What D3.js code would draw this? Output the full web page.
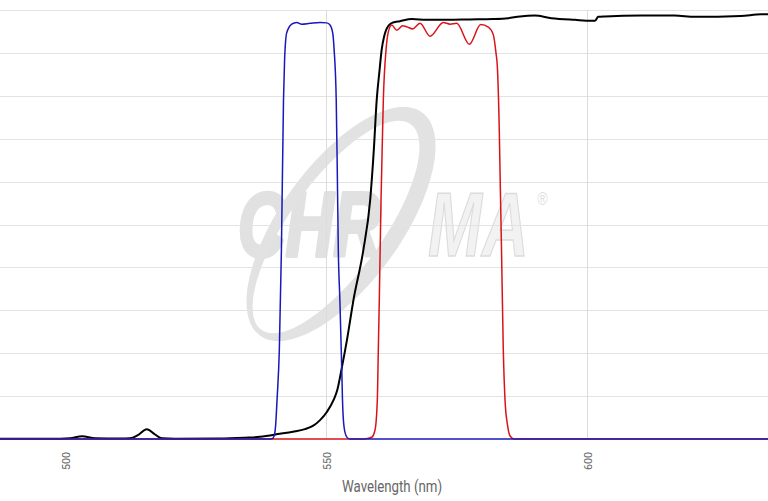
<!DOCTYPE html>
<html>
<head>
<meta charset="utf-8">
<script src="https://cdn.jsdelivr.net/npm/d3@7"></script>
<style>
html,body{margin:0;padding:0;background:#fff;}
svg{display:block;}
</style>
</head>
<body>
<svg id="chart" width="768" height="501"></svg>
<script>
// ---- data (wavelength nm, transmission %) ----
const xTicks = [500, 550, 600];
const xGrid = [550, 600];
const yGrid = [10, 20, 30, 40, 50, 60, 70, 80, 90, 100];
const axisTitle = "Wavelength (nm)";

const excitationNm  = [487.5, 539.0, 539.6, 540.0, 540.3, 540.56, 541.0, 541.4, 541.8, 542.0, 542.4, 543.37, 544.33, 545.29, 546.88, 548.79, 550.08, 550.71, 551.23, 551.5, 551.9, 552.1, 552.3, 552.6, 552.95, 553.1, 553.4, 553.9, 554.5, 634.6];
const excitationPct = [0, 0, 0.05, 0.7, 3.3, 9.0, 20.7, 44, 79, 88, 94.6, 96.7, 97.1, 96.7, 96.9, 97.1, 97.0, 96.5, 94.6, 90.7, 79, 62.7, 44, 32.4, 16.8, 9.1, 2.8, 0.5, 0, 0];

const emissionNm  = [487.5, 557.2, 557.74, 558.7, 559.33, 559.77, 559.96, 560.15, 560.48, 560.61, 560.92, 561.44, 561.88, 562.53, 563.49, 564.64, 565.4, 566.55, 567.95, 569.87, 572.41, 573.7, 574.98, 577.39, 579.58, 581.03, 581.99, 582.51, 582.76, 583.14, 583.27, 583.56, 583.9, 584.23, 584.7, 585.2, 585.95, 634.6];
const emissionPct = [0, 0, 0.1, 0.4, 2.1, 9.1, 20.7, 32.4, 55.7, 62.7, 79, 90.7, 94.9, 96.5, 95.3, 96.3, 96.1, 95.6, 96.9, 93.9, 97.1, 96.7, 96.9, 92.0, 96.6, 96.0, 94.2, 89.9, 86.8, 71.3, 62.7, 44, 20.7, 9.1, 3.3, 0.7, 0, 0];

const dichroicNm  = [487.5, 497.1, 500.9, 503.2, 505.7, 510.5, 512.4, 513.9, 515.6, 517.2, 518.5, 521.0, 529.6, 534.4, 537.3, 541.1, 543.6, 545.9, 547.5, 548.8, 550.1, 551.4, 552.1, 553.0, 553.96, 555.2, 557.1, 558.4, 559.1, 559.65, 560.2, 560.6, 561.05, 561.44, 562.0, 562.8, 564.1, 566.4, 569.2, 573.1, 577.5, 581.9, 584.8, 587.1, 589.9, 593.1, 597.6, 600.8, 601.5, 602.05, 603.4, 610.3, 616.7, 620.6, 629.4, 633.3, 634.6];
const dichroicPct = [0.05, 0.07, 0.2, 0.65, 0.2, 0.1, 0.15, 0.9, 2.3, 1.05, 0.15, 0.07, 0.1, 0.3, 0.5, 1.2, 1.7, 2.3, 3.1, 4.4, 6.3, 9.1, 11.4, 16.8, 23.1, 32.4, 44.1, 55.7, 67.4, 79, 86, 90.7, 93.7, 95.3, 96.5, 97.1, 97.4, 97.9, 97.7, 97.7, 97.8, 97.9, 98.1, 98.5, 98.7, 98.1, 97.7, 97.5, 97.5, 98.4, 98.5, 98.7, 98.7, 98.4, 98.6, 99.0, 99.0];

// ---- layout ----
const W = 768, H = 501;
const svg = d3.select("#chart");
const x = d3.scaleLinear().domain([487.5, 634.6]).range([0, 768]);
const y = d3.scaleLinear().domain([0, 100]).range([439, 10]);

// ---- watermark ----
const wm = svg.append("g").attr("class", "watermark");
function ellipsePath(cx, cy, rx, ry, deg) {
  const a = deg * Math.PI / 180, n = 120, pts = [];
  for (let i = 0; i < n; i++) {
    const t = i / n * 2 * Math.PI;
    const ex = rx * Math.cos(t), ey = ry * Math.sin(t);
    pts.push([cx + ex * Math.cos(a) - ey * Math.sin(a), cy + ex * Math.sin(a) + ey * Math.cos(a)]);
  }
  return "M" + pts.map(p => p[0].toFixed(1) + "," + p[1].toFixed(1)).join("L") + "Z";
}
wm.append("text")
  .attr("x", 238).attr("y", 256)
  .attr("textLength", 143).attr("lengthAdjust", "spacingAndGlyphs")
  .style("font-family", "'Liberation Sans', Arial, sans-serif")
  .style("font-weight", "bold").style("font-style", "italic")
  .style("font-size", "90px").style("fill", "#e1e1e1")
  .style("stroke", "#e1e1e1").style("stroke-width", 4).style("stroke-linejoin", "round")
  .text("CHR");
const ma = wm.append("text")
  .attr("transform", "translate(428,256) scale(0.72,1)")
  .attr("x", 0).attr("y", 0)
  .style("font-family", "'Liberation Sans', Arial, sans-serif")
  .style("font-weight", "bold").style("font-style", "italic")
  .style("font-size", "90px");
ma.append("tspan")
  .style("fill", "#f2f2f2").style("stroke", "#dcdcdc").style("stroke-width", 1.5)
  .text("MA");
ma.append("tspan")
  .attr("dx", 12).attr("dy", -51)
  .style("font-size", "19px").style("font-weight", "normal").style("font-style", "normal")
  .style("fill", "#e0e0e0")
  .text("®");
wm.append("path")
  .attr("d", ellipsePath(341, 224, 138, 60, -54) + ellipsePath(336, 227, 127, 46, -54))
  .attr("fill-rule", "evenodd")
  .style("fill", "#e2e2e2");

// ---- grid ----
const grid = svg.append("g").attr("class", "grid");
grid.selectAll("line.h").data(yGrid).enter().append("line")
  .attr("class", "h")
  .attr("x1", 0).attr("x2", W)
  .attr("y1", d => Math.round(y(d)) + 0.5).attr("y2", d => Math.round(y(d)) + 0.5)
  .style("stroke", "#e3e3e3").style("stroke-width", 1);
grid.selectAll("line.v").data(xGrid).enter().append("line")
  .attr("class", "v")
  .attr("x1", d => Math.round(x(d)) + 0.5).attr("x2", d => Math.round(x(d)) + 0.5)
  .attr("y1", 10).attr("y2", 439)
  .style("stroke", "#dcdcdc").style("stroke-width", 1);

// ---- axis ----
const axis = svg.append("g").attr("transform", "translate(0,451)")
  .call(d3.axisBottom(x).tickValues(xTicks).tickSize(0).tickPadding(0).tickFormat(d3.format("d")));
axis.select(".domain").remove();
axis.selectAll(".tick text")
  .attr("transform", "translate(0,10) rotate(-90)")
  .attr("x", 0).attr("y", 0).attr("dy", "0.35em")
  .attr("text-anchor", "middle")
  .attr("textLength", 18).attr("lengthAdjust", "spacingAndGlyphs")
  .style("font-family", "Roboto, 'Liberation Sans', sans-serif")
  .style("font-size", "11.5px").style("fill", "#666");

svg.append("text")
  .attr("x", 392).attr("y", 492)
  .attr("text-anchor", "middle")
  .attr("textLength", 100).attr("lengthAdjust", "spacingAndGlyphs")
  .style("font-family", "Roboto, 'Liberation Sans', sans-serif")
  .style("font-size", "16px").style("fill", "#666")
  .text(axisTitle);

// ---- curves ----
const line = d3.line().x(d => x(d[0])).y(d => y(d[1])).curve(d3.curveMonotoneX);
const zip = (a, b) => a.map((v, i) => [v, b[i]]);

svg.append("path").datum(zip(dichroicNm, dichroicPct))
  .attr("d", line).style("fill", "none").style("stroke", "#000").style("stroke-width", 2);
svg.append("path").datum(zip(emissionNm, emissionPct))
  .attr("d", line).style("fill", "none").style("stroke", "#d8141a").style("stroke-width", 1.5);
svg.append("path").datum(zip(excitationNm, excitationPct))
  .attr("d", line).style("fill", "none").style("stroke", "#1a18b8").style("stroke-width", 1.5);
</script>
</body>
</html>
